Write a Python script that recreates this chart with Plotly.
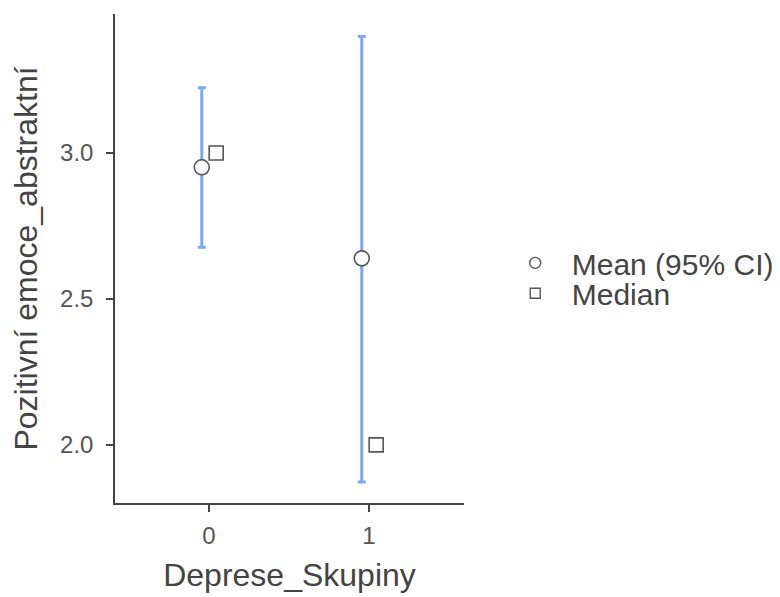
import plotly.graph_objects as go

categories = ["0", "1"]
cat_pos = [0, 1]
means = [2.951, 2.639]
ci_low = [2.677, 1.873]
ci_high = [3.223, 3.399]
medians = [3.0, 2.0]
y_ticks = [2.0, 2.5, 3.0]
y_tick_labels = ["2.0", "2.5", "3.0"]

dodge = 0.045
font = "Liberation Sans, Arial, sans-serif"
bar_color = "#7DA7F0"
mark_color = "#555555"

fig = go.Figure()

fig.add_trace(go.Scatter(
    x=[p - dodge for p in cat_pos], y=means, mode="markers",
    marker=dict(symbol="circle", size=15, color="white",
                line=dict(color=mark_color, width=1.6)),
    error_y=dict(type="data", symmetric=False,
                 array=[h - m for h, m in zip(ci_high, means)],
                 arrayminus=[m - l for m, l in zip(means, ci_low)],
                 color=bar_color, thickness=3, width=4),
    showlegend=False, hoverinfo="skip"))

fig.add_trace(go.Scatter(
    x=[p + dodge for p in cat_pos], y=medians, mode="markers",
    marker=dict(symbol="square", size=14, color="white",
                line=dict(color=mark_color, width=1.6)),
    showlegend=False, hoverinfo="skip"))

fig.add_trace(go.Scatter(
    x=[None], y=[None], mode="markers", name="Mean (95% CI)", legend="legend",
    marker=dict(symbol="circle", size=11, color="white",
                line=dict(color=mark_color, width=1.4))))
fig.add_trace(go.Scatter(
    x=[None], y=[None], mode="markers", name="Median", legend="legend2",
    marker=dict(symbol="square", size=10, color="white",
                line=dict(color=mark_color, width=1.4))))

leg_common = dict(xanchor="left", yanchor="middle",
                  font=dict(size=30, color="#444444"),
                  itemsizing="trace", itemwidth=63, bgcolor="rgba(0,0,0,0)")

fig.update_layout(
    width=780, height=589,
    margin=dict(l=107, r=324, t=6, b=94),
    plot_bgcolor="white", paper_bgcolor="white",
    font=dict(family=font, color="#333333"),
    legend=dict(x=1.0995, y=0.491, **leg_common),
    legend2=dict(x=1.0995, y=0.429, **leg_common),
    xaxis=dict(
        range=[-0.5875, 1.594],
        tickmode="array", tickvals=cat_pos, ticktext=categories,
        showgrid=False, zeroline=False,
        showline=True, linecolor="#444444", linewidth=1.5,
        ticks="outside", ticklen=7, tickwidth=2, tickcolor="#444444",
        tickfont=dict(size=24, color="#555555"), ticklabelstandoff=3,
        title=dict(text="Deprese_Skupiny", font=dict(size=32, color="#444444"), standoff=16),
    ),
    yaxis=dict(
        range=[1.801, 3.476],
        tickmode="array", tickvals=y_ticks, ticktext=y_tick_labels,
        showgrid=False, zeroline=False,
        showline=True, linecolor="#444444", linewidth=1.5,
        ticks="outside", ticklen=7, tickwidth=2, tickcolor="#444444",
        tickfont=dict(size=24, color="#555555"), ticklabelstandoff=8,
        title=dict(text="Pozitivní emoce_abstraktní", font=dict(size=32, color="#444444"), standoff=14),
    ),
)

fig.write_html("out.html")
